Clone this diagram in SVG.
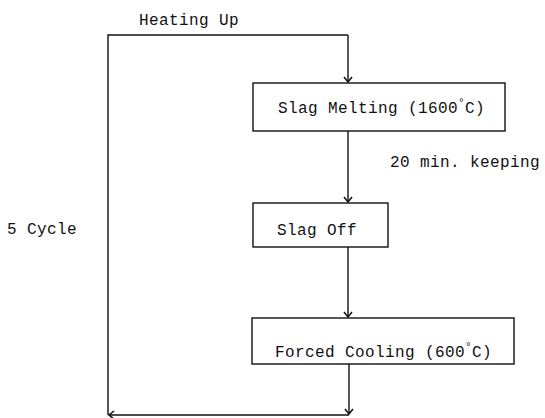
<svg xmlns="http://www.w3.org/2000/svg" width="545" height="418" viewBox="0 0 545 418">
<style>
text{font-family:"Liberation Mono","DejaVu Sans Mono",monospace;font-size:16px;letter-spacing:0.4px;fill:#111}
.box{fill:#fff;stroke:#111;stroke-width:1.4}
.ln{fill:none;stroke:#111;stroke-width:1.4}
</style>
<defs>
<marker id="ah" viewBox="-7 -5 8 10" refX="0" refY="0" markerWidth="8" markerHeight="10" markerUnits="userSpaceOnUse" orient="auto">
<path d="M-5,-4 L0,0 L-5,4" fill="none" stroke="#111" stroke-width="1.5"/>
</marker>
</defs>
<rect width="545" height="418" fill="#fff"/>
<g id="connectors">
<path class="ln" d="M348,35 L108,35 L108,415"/>
<path class="ln" d="M348,35 L348,82" marker-end="url(#ah)"/>
<path class="ln" d="M348,131 L348,202" marker-end="url(#ah)"/>
<path class="ln" d="M348,247 L348,317" marker-end="url(#ah)"/>
<path class="ln" d="M349,363 L349,414" marker-end="url(#ah)"/>
<path class="ln" d="M349,415 L109,415" marker-end="url(#ah)"/>
</g>
<g id="label-heating"><text x="139" y="25">Heating Up</text></g>
<g id="label-keeping"><text x="390" y="167">20 min. keeping</text></g>
<g id="label-cycle"><text x="7" y="234">5 Cycle</text></g>
<g id="slag-melting">
<rect class="box" x="253" y="83" width="252" height="48"/>
<text x="278" y="113">Slag Melting (1600<tspan dy="-7" font-size="11">°</tspan><tspan dy="7">C)</tspan></text>
</g>
<g id="slag-off">
<rect class="box" x="253" y="203" width="135" height="44"/>
<text x="277" y="235">Slag Off</text>
</g>
<g id="forced-cooling">
<rect class="box" x="252" y="318" width="262" height="46"/>
<text x="275" y="357">Forced Cooling (600<tspan dy="-7" font-size="11">°</tspan><tspan dy="7">C)</tspan></text>
</g>
</svg>
